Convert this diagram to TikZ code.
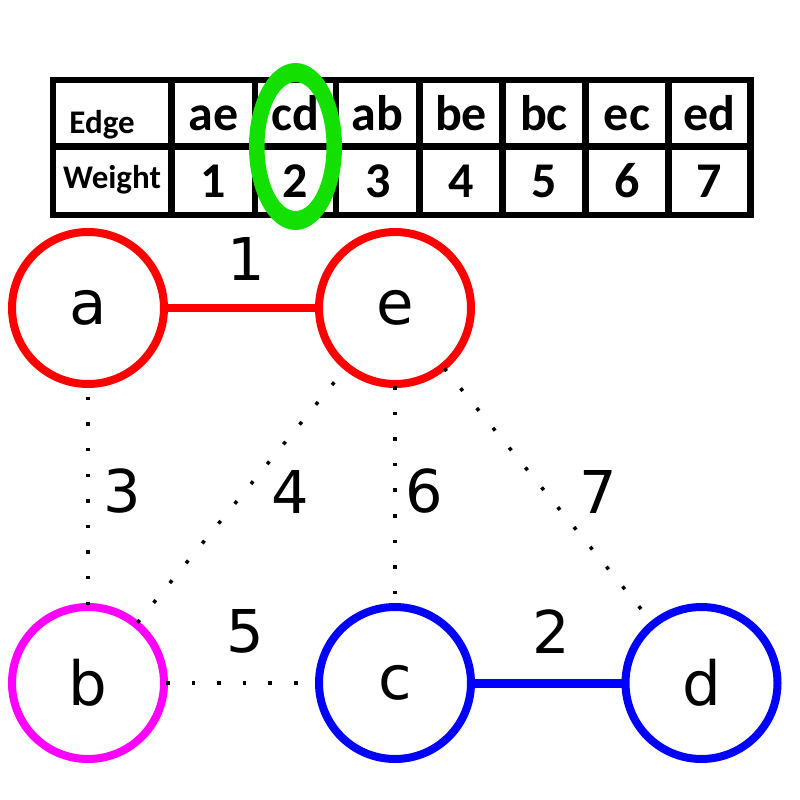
\documentclass[tikz,border=0pt]{standalone}
\usepackage{fontspec}
\setmainfont{DejaVu Sans}
\newfontfamily\tabfont{Carlito}
\definecolor{nred}{RGB}{255,0,0}
\definecolor{nmag}{RGB}{255,0,255}
\definecolor{nblue}{RGB}{0,0,255}
\definecolor{hlgreen}{RGB}{20,224,0}
\tikzset{
  vert/.style={circle, draw, line width=8pt, minimum size=152pt, inner sep=0pt, outer sep=2pt, fill=white},
  vletter/.style={font=\fontsize{61}{70}\selectfont},
  wlabel/.style={inner sep=0pt, font=\fontsize{59}{70}\selectfont},
  dotedge/.style={line width=3.5pt, dash pattern=on 3.5pt off 22.1pt},
  grid/.style={line width=6.5pt},
  headtxt/.style={inner sep=0pt, anchor=base, font=\tabfont\bfseries\fontsize{33}{38}\selectfont},
  rowone/.style={inner sep=0pt, anchor=base, font=\tabfont\bfseries\fontsize{50}{56}\selectfont},
  rowtwo/.style={inner sep=0pt, anchor=base, font=\tabfont\bfseries\fontsize{50}{56}\selectfont},
}
\begin{document}
\begin{tikzpicture}[x=1pt,y=-1pt]
\useasboundingbox (0,0) rectangle (800,800);
\fill[white] (0,0) rectangle (800,800);
% table grid
\draw[grid] (53,80) rectangle (750.5,215);
\draw[grid] (53,146.5) -- (750.5,146.5);
\foreach \x in {171.5,255,336,419.5,502.5,585.5,668.5}
  \draw[grid] (\x,80) -- (\x,215);
% table texts
\node[headtxt] (hedge) at (102,133) {Edge};
\node[headtxt] (hweight) at (112,188) {Weight};
\node[rowone] (eae) at (213.25,130) {ae};
\node[rowone] (ecd) at (295.5,130) {cd};
\node[rowone] (eab) at (377.75,130) {ab};
\node[rowone] (ebe) at (461,130) {be};
\node[rowone] (ebc) at (544,130) {bc};
\node[rowone] (eec) at (627,130) {ec};
\node[rowone] (eed) at (709.5,130) {ed};
\node[rowtwo] (w1) at (213.25,197) {1};
\node[rowtwo] (w2) at (295.5,197) {2};
\node[rowtwo] (w3) at (377.75,197) {3};
\node[rowtwo] (w4) at (461,197) {4};
\node[rowtwo] (w5) at (544,197) {5};
\node[rowtwo] (w6) at (627,197) {6};
\node[rowtwo] (w7) at (709.5,197) {7};
% highlight ellipse
\fill[hlgreen, even odd rule] (295.5,146.5) ellipse [x radius=46.5, y radius=83.5]
  (295.5,146.5) ellipse [x radius=31, y radius=64.5];
% vertices
\node[vert, draw=nred, vletter] (a) at (88,308) {a};
\node[vert, draw=nred, vletter] (e) at (395,308) {e};
\node[vert, draw=nmag, vletter] (b) at (88,683) {b};
\node[vert, draw=nblue, vletter] (c) at (395,683) {c};
\node[vert, draw=nblue, vletter] (d) at (701.5,683) {d};
% edges
\draw[nred, line width=8.5pt] (a) -- (e);
\draw[nblue, line width=9pt] (c) -- (d);
\draw[dotedge] (b) -- (a);
\draw[dotedge] (b) -- (e);
\draw[dotedge] (b) -- (c);
\draw[dotedge] (e) -- (c);
\draw[dotedge] (e) -- (d);
% weight labels
\node[wlabel] (l1) at (246,258.5) {1};
\node[wlabel] (l3) at (122,491.5) {3};
\node[wlabel] (l4) at (290,491.5) {4};
\node[wlabel] (l6) at (424,491.5) {6};
\node[wlabel] (l7) at (598,491.5) {7};
\node[wlabel] (l5) at (245,631.5) {5};
\node[wlabel] (l2) at (551,631.5) {2};
\end{tikzpicture}
\end{document}
